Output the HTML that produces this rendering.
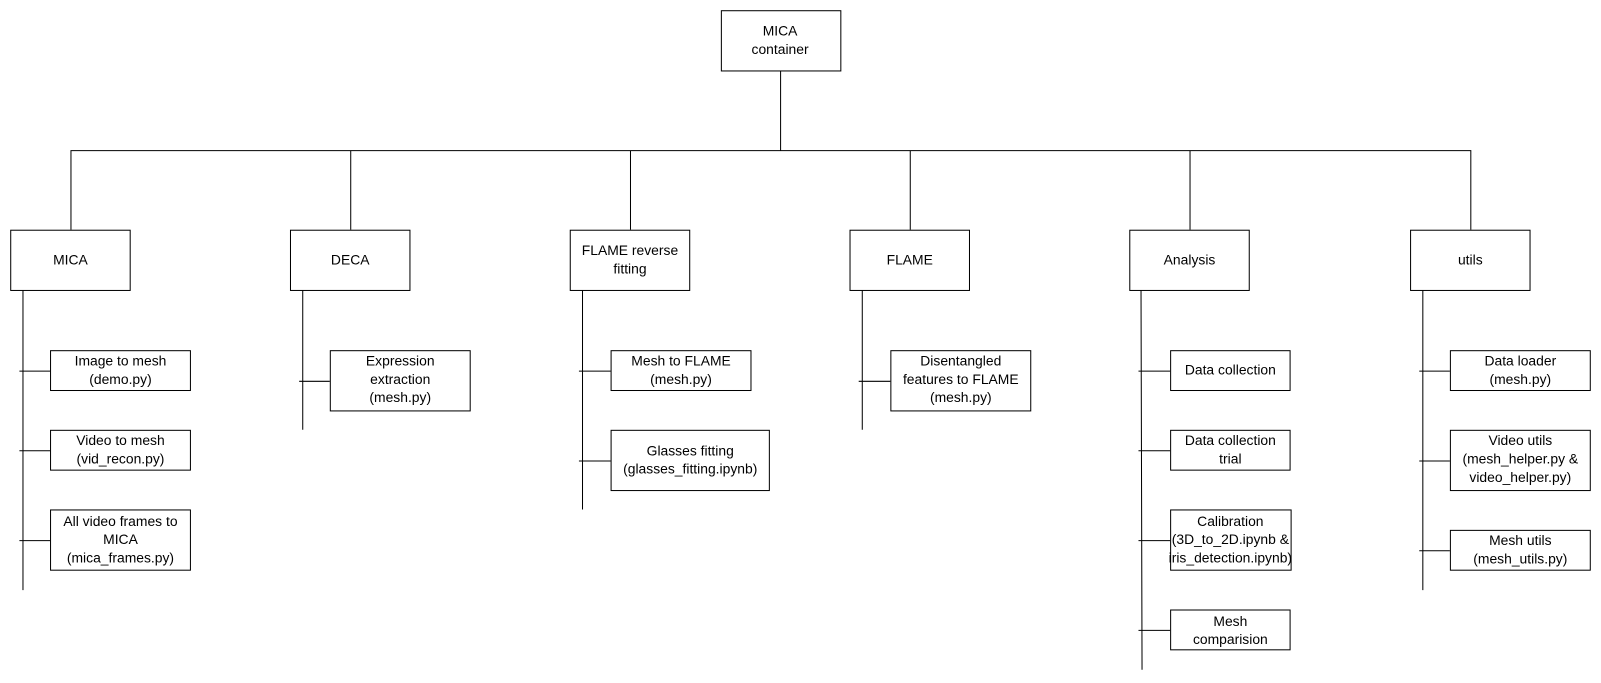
<!DOCTYPE html>
<html><head><meta charset="utf-8"><style>
html,body{margin:0;padding:0;background:#fff;}
svg{display:block;}
text{font-family:"Liberation Sans",Arial,sans-serif;font-size:13.6px;fill:#000;}
</style></head><body>
<svg width="1601" height="683" viewBox="0 0 1568 669" preserveAspectRatio="none" xmlns="http://www.w3.org/2000/svg">
<g fill="#fff" stroke="#000" stroke-width="1">
<rect x="706.5" y="10.5" width="117" height="59"/>
<rect x="10.5" y="225.5" width="117" height="59"/>
<rect x="284.5" y="225.5" width="117" height="59"/>
<rect x="558.5" y="225.5" width="117" height="59"/>
<rect x="832.5" y="225.5" width="117" height="59"/>
<rect x="1106.5" y="225.5" width="117" height="59"/>
<rect x="1381.5" y="225.5" width="117" height="59"/>
<rect x="49.5" y="343.5" width="137" height="39"/>
<rect x="49.5" y="421.5" width="137" height="39"/>
<rect x="49.5" y="499.5" width="137" height="59"/>
<rect x="323.5" y="343.5" width="137" height="59"/>
<rect x="598.5" y="343.5" width="137" height="39"/>
<rect x="598.5" y="421.5" width="155" height="59"/>
<rect x="872.5" y="343.5" width="137" height="59"/>
<rect x="1146.5" y="343.5" width="117" height="39"/>
<rect x="1146.5" y="421.5" width="117" height="39"/>
<rect x="1146.5" y="499.5" width="118" height="59"/>
<rect x="1146.5" y="597.5" width="117" height="39"/>
<rect x="1420.5" y="343.5" width="137" height="39"/>
<rect x="1420.5" y="421.5" width="137" height="59"/>
<rect x="1420.5" y="519.5" width="137" height="39"/>
</g>
<g stroke="#000" stroke-width="1" fill="none">
<path d="M764.5 69V147.5M69.5 147.5H1440.5M69.5 147V225M343.5 147V225M617.5 147V225M891.5 147V225M1165.5 147V225M1440.5 147V225"/>
<path d="M22.5 284V578M19 363.5H49M19 441.5H49M19 529.5H49"/>
<path d="M296.5 284V421M293 373.5H323"/>
<path d="M570.5 284V499M567 363.5H598M567 451.5H598"/>
<path d="M844.5 284V421M841 373.5H872"/>
<path d="M1117.5 284L1118.5 656M1115 363.5H1146M1115 441.5H1146M1115 529.5H1146M1115 617.5H1146"/>
<path d="M1393.5 284V578M1390 363.5H1420M1390 451.5H1420M1390 539.5H1420"/>
</g>
<g text-anchor="middle">
<text x="764" y="35">MICA</text><text x="764" y="53">container</text>
<text x="69" y="259">MICA</text>
<text x="343" y="259">DECA</text>
<text x="617" y="250">FLAME reverse</text><text x="617" y="268">fitting</text>
<text x="891" y="259">FLAME</text>
<text x="1165" y="259">Analysis</text>
<text x="1440" y="259">utils</text>
<text x="118" y="358">Image to mesh</text><text x="118" y="376">(demo.py)</text>
<text x="118" y="436">Video to mesh</text><text x="118" y="454">(vid_recon.py)</text>
<text x="118" y="515">All video frames to</text><text x="118" y="533">MICA</text><text x="118" y="551">(mica_frames.py)</text>
<text x="392" y="358">Expression</text><text x="392" y="376">extraction</text><text x="392" y="394">(mesh.py)</text>
<text x="667" y="358">Mesh to FLAME</text><text x="667" y="376">(mesh.py)</text>
<text x="676" y="446">Glasses fitting</text><text x="676" y="464">(glasses_fitting.ipynb)</text>
<text x="941" y="358">Disentangled</text><text x="941" y="376">features to FLAME</text><text x="941" y="394">(mesh.py)</text>
<text x="1205" y="367">Data collection</text>
<text x="1205" y="436">Data collection</text><text x="1205" y="454">trial</text>
<text x="1205" y="515">Calibration</text><text x="1205" y="533">(3D_to_2D.ipynb &amp;</text><text x="1205" y="551">iris_detection.ipynb)</text>
<text x="1205" y="613">Mesh</text><text x="1205" y="631">comparision</text>
<text x="1489" y="358">Data loader</text><text x="1489" y="376">(mesh.py)</text>
<text x="1489" y="436">Video utils</text><text x="1489" y="454">(mesh_helper.py &amp;</text><text x="1489" y="472">video_helper.py)</text>
<text x="1489" y="534">Mesh utils</text><text x="1489" y="552">(mesh_utils.py)</text>
</g>
</svg>
</body></html>
